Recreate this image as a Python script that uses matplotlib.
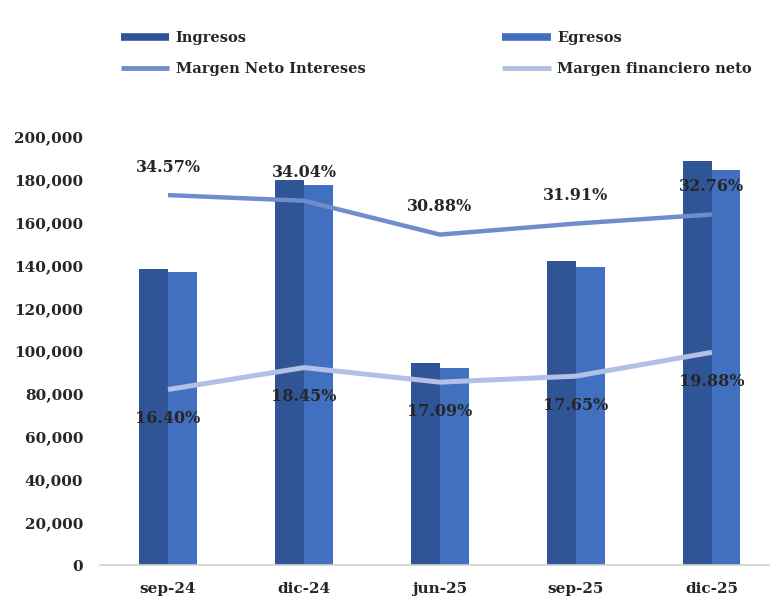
import matplotlib
matplotlib.use('Agg')
import matplotlib.pyplot as plt
import numpy as np
from matplotlib.lines import Line2D
from matplotlib.ticker import FuncFormatter

periodos = ['sep-24', 'dic-24', 'jun-25', 'sep-25', 'dic-25']
ingresos = [138500, 180000, 94500, 142000, 188800]
egresos = [137000, 177600, 92200, 139400, 184600]
margen_neto_intereses = [34.57, 34.04, 30.88, 31.91, 32.76]
margen_financiero_neto = [16.40, 18.45, 17.09, 17.65, 19.88]

c_ing = '#2F5597'
c_egr = '#4170C0'
c_mni = '#6F8DCD'
c_mfn = '#B3C0E6'
c_txt = '#262626'

plt.rcParams['font.family'] = ['DejaVu Serif']
plt.rcParams['font.weight'] = 'bold'

fig = plt.figure(figsize=(7.7, 6.03), dpi=100)
ax = fig.add_axes([0.1299, 0.063, 0.883, 0.7098])

x = np.arange(len(periodos))
w = 0.21
ax.bar(x - w / 2, ingresos, w, color=c_ing, zorder=2)
ax.bar(x + w / 2, egresos, w, color=c_egr, zorder=2)

ax.set_ylim(0, 200000)
ax.set_xlim(-0.5, 4.5)
ax.set_yticks(np.arange(0, 200001, 20000))
ax.yaxis.set_major_formatter(FuncFormatter(lambda v, p: f'{int(v):,}'))
ax.set_xticks(x)
ax.set_xticklabels(periodos)
ax.tick_params(axis='both', length=0, labelsize=11, colors=c_txt)
ax.tick_params(axis='x', pad=12)
ax.tick_params(axis='y', pad=12)
for s in ['top', 'right', 'left']:
    ax.spines[s].set_visible(False)
ax.spines['bottom'].set_color('#D0D0D0')
ax.spines['bottom'].set_linewidth(1.2)

# margins on a hidden secondary scale (0-40 %)
ax2 = ax.twinx()
ax2.set_ylim(0, 40)
ax2.axis('off')
ax2.plot(x, margen_neto_intereses, color=c_mni, lw=3.2, solid_capstyle='butt')
ax2.plot(x, margen_financiero_neto, color=c_mfn, lw=3.6, solid_capstyle='butt')

for xi, v in zip(x, margen_neto_intereses):
    ax2.annotate(f'{v:.2f}%', (xi, v), xytext=(0, 20), textcoords='offset points',
                 ha='center', va='center', fontsize=11.5, color=c_txt)
for xi, v in zip(x, margen_financiero_neto):
    ax2.annotate(f'{v:.2f}%', (xi, v), xytext=(0, -21), textcoords='offset points',
                 ha='center', va='center', fontsize=11.5, color=c_txt)

handles = [
    Line2D([], [], color=c_ing, lw=5.5, solid_capstyle='butt'),
    Line2D([], [], color=c_mni, lw=3.5, solid_capstyle='butt'),
    Line2D([], [], color=c_egr, lw=5.5, solid_capstyle='butt'),
    Line2D([], [], color=c_mfn, lw=3.5, solid_capstyle='butt'),
]
labels = ['Ingresos', 'Margen Neto Intereses', 'Egresos', 'Margen financiero neto']
fig.legend(handles, labels, ncol=2, loc='upper left', bbox_to_anchor=(0.140, 0.970),
           frameon=False, fontsize=10.5, handlelength=3.3, handletextpad=0.45,
           columnspacing=9.4, labelspacing=1.15, labelcolor=c_txt)

fig.savefig('out.png', dpi=100, facecolor='white')
